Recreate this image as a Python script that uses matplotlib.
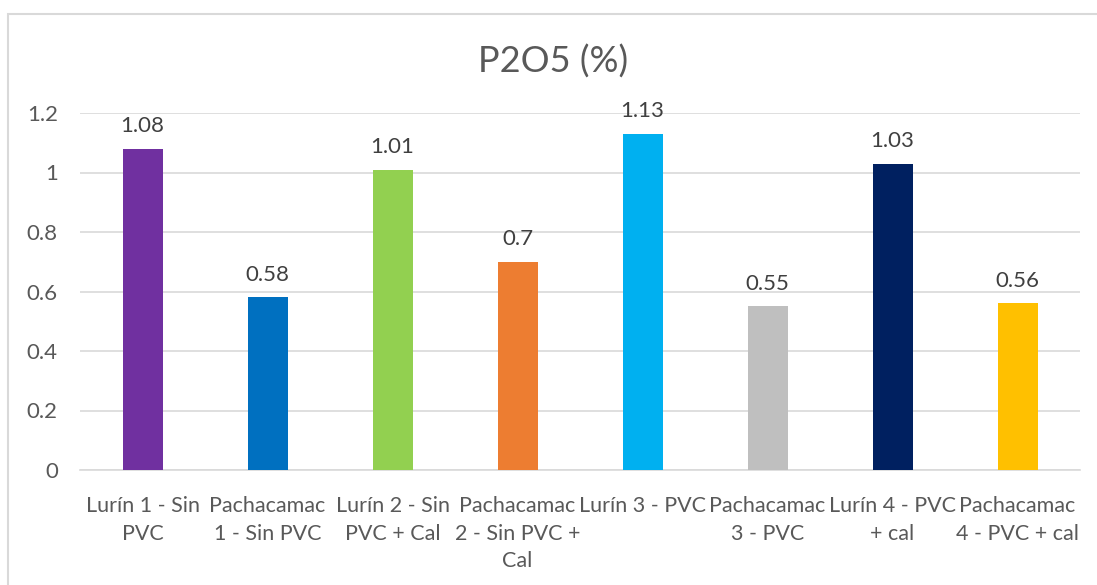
import matplotlib
matplotlib.use("Agg")
import matplotlib.pyplot as plt
from matplotlib.patches import Rectangle

categories = [
    "Lurín 1 - Sin\nPVC",
    "Pachacamac\n1 - Sin PVC",
    "Lurín 2 - Sin\nPVC + Cal",
    "Pachacamac\n2 - Sin PVC +\nCal",
    "Lurín 3 - PVC",
    "Pachacamac\n3 - PVC",
    "Lurín 4 - PVC\n+ cal",
    "Pachacamac\n4 - PVC + cal",
]
values = [1.08, 0.58, 1.01, 0.70, 1.13, 0.55, 1.03, 0.56]
value_labels = ["1.08", "0.58", "1.01", "0.7", "1.13", "0.55", "1.03", "0.56"]
colors = ["#7030A0", "#0070C0", "#92D050", "#ED7D31",
          "#00B0F0", "#BFBFBF", "#002060", "#FFC000"]
yticks = [0, 0.2, 0.4, 0.6, 0.8, 1.0, 1.2]
ytick_labels = ["0", "0.2", "0.4", "0.6", "0.8", "1", "1.2"]

plt.rcParams["font.family"] = ["Lato", "DejaVu Sans"]

fig = plt.figure(figsize=(10.97, 5.85), dpi=100)
fig.patches.append(Rectangle((8 / 1097, -0.1), 1.2, 1 - 14 / 585 + 0.1,
                             transform=fig.transFigure, fill=False,
                             edgecolor="#D9D9D9", linewidth=1.5, zorder=0))

ax = fig.add_axes([80 / 1097, 1 - 470 / 585, 1000 / 1097, (470 - 113) / 585])
x = range(len(categories))
bars = ax.bar(x, values, width=0.32, color=colors, zorder=3)

for xi, v, lab in zip(x, values, value_labels):
    ax.annotate(lab, (xi, v), xytext=(0, 9), textcoords="offset points",
                ha="center", va="bottom", fontsize=16, color="#404040")

ax.set_xlim(-0.5, len(categories) - 0.5)
ax.set_ylim(0, 1.2)
ax.set_yticks(yticks)
ax.set_yticklabels(ytick_labels, fontsize=16)
ax.set_xticks(list(x))
ax.set_xticklabels(categories, linespacing=1.45, fontsize=15.5)
ax.tick_params(axis="both", length=0, labelcolor="#595959")
ax.tick_params(axis="y", pad=16)
ax.tick_params(axis="x", pad=19)

ax.grid(axis="y", color="#D9D9D9", linewidth=1.2, zorder=0)
for side in ["top", "right", "left"]:
    ax.spines[side].set_visible(False)
ax.spines["bottom"].set_color("#D9D9D9")
ax.spines["bottom"].set_linewidth(1.2)

fig.text(553 / 1097, 1 - 62 / 585, "P2O5 (%)", ha="center", va="center",
         fontsize=26, color="#595959")

fig.savefig("out.png", dpi=100)
